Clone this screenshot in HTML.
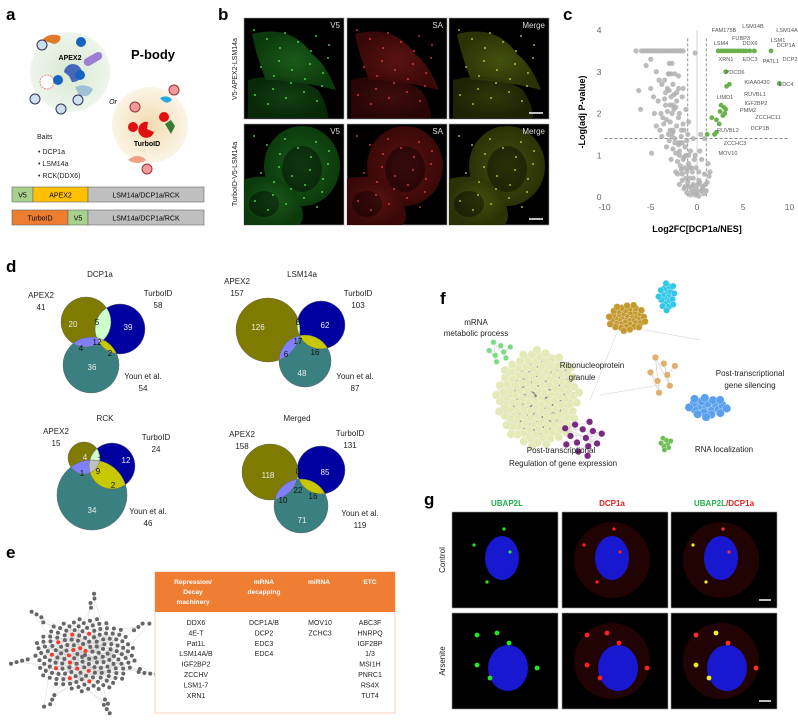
<!DOCTYPE html>
<html><head><meta charset="utf-8">
<style>
html,body{margin:0;padding:0;background:#fff;}
svg{display:block;font-family:"Liberation Sans",Arial,sans-serif;}
</style></head>
<body>
<svg id="fig" width="798" height="721" viewBox="0 0 798 721" xmlns="http://www.w3.org/2000/svg">
<defs>
<radialGradient id="gA" cx="50%" cy="50%" r="50%"><stop offset="0" stop-color="#d6e8d0"/><stop offset="1" stop-color="#eef5ec"/></radialGradient>
<radialGradient id="gT" cx="50%" cy="50%" r="50%"><stop offset="0" stop-color="#f1dcb0"/><stop offset="1" stop-color="#fbf4e6"/></radialGradient>
<radialGradient id="cellG" cx="50%" cy="50%" r="50%"><stop offset="0" stop-color="#1a5a1a"/><stop offset="1" stop-color="#0c3a0c"/></radialGradient>
<radialGradient id="cellR" cx="50%" cy="50%" r="50%"><stop offset="0" stop-color="#5a1212"/><stop offset="1" stop-color="#3a0808"/></radialGradient>
<radialGradient id="cellM" cx="50%" cy="50%" r="50%"><stop offset="0" stop-color="#44500e"/><stop offset="1" stop-color="#2a3206"/></radialGradient>
</defs>

<g font-weight="bold" font-size="17" fill="#000">
<text x="6" y="20">a</text><text x="218" y="20">b</text><text x="563" y="20">c</text>
<text x="6" y="272">d</text><text x="6" y="558">e</text><text x="440" y="304">f</text><text x="424" y="505">g</text>
</g>

<g>
<circle cx="70" cy="72" r="40" fill="url(#gA)"/>
<circle cx="150" cy="125" r="38" fill="url(#gT)"/>
<path d="M42 40 q8 -8 18 -4 q2 6 -6 8 z" fill="#e07a28"/>
<rect x="83" y="55" width="20" height="8" rx="4" transform="rotate(-30 93 59)" fill="#9b7fd4"/>
<path d="M64 72 a9 9 0 1 1 8 10 l-3 -6 z" fill="#4466bb"/>
<path d="M75 87 q10 -4 18 2 q-4 10 -14 6 z" fill="#9fc0d4"/>
<circle cx="47" cy="82" r="7" fill="#fff" stroke="#f08080" stroke-dasharray="2 1"/>
<g font-size="6" text-anchor="middle" fill="#fff">
<circle cx="42" cy="45" r="5" fill="#cde0f0" stroke="#335"/><circle cx="81" cy="42" r="5" fill="#1565c0"/>
<circle cx="58" cy="80" r="5" fill="#1565c0"/><circle cx="80" cy="75" r="5" fill="#1565c0"/>
<circle cx="35" cy="99" r="5" fill="#cde0f0" stroke="#335"/><circle cx="61" cy="109" r="5" fill="#cde0f0" stroke="#335"/>
<circle cx="78" cy="100" r="5" fill="#cde0f0" stroke="#335"/>
<circle cx="135" cy="107" r="5" fill="#f59a9a" stroke="#933"/><circle cx="174" cy="90" r="5" fill="#f59a9a" stroke="#933"/>
<circle cx="133" cy="127" r="5" fill="#e01010"/><circle cx="164" cy="117" r="5" fill="#e01010"/>
<circle cx="147" cy="169" r="5" fill="#f59a9a" stroke="#933"/>
</g>
<path d="M148 122 a8 8 0 1 0 6 10 l-7 -3 z" fill="#e01010"/>
<path d="M160 98 q8 -4 12 2 q-6 6 -12 -2 z" fill="#29a8e0"/>
<path d="M165 124 l6 -4 l4 6 l-4 8 z" fill="#3b7a32"/>
<path d="M128 160 q10 -8 18 0 q-8 6 -18 0 z" fill="#f0a080"/>
<text x="70" y="60" font-size="7" font-weight="bold" text-anchor="middle">APEX2</text>
<text x="153" y="59" font-size="13" font-weight="bold" text-anchor="middle">P-body</text>
<text x="113" y="104" font-size="7" font-style="italic" text-anchor="middle">Or</text>
<text x="147" y="146" font-size="7" font-weight="bold" text-anchor="middle">TurboID</text>
<g font-size="7" fill="#222">
<text x="37" y="139">Baits</text>
<text x="38" y="154">•  DCP1a</text><text x="38" y="166">•  LSM14a</text><text x="38" y="178">•  RCK(DDX6)</text>
</g>
<g font-size="7" text-anchor="middle" stroke-width="0.6">
<rect x="12" y="187" width="21" height="15" fill="#a9d18e" stroke="#666"/><text x="22.5" y="197.5">V5</text>
<rect x="33" y="187" width="55" height="15" fill="#ffc000" stroke="#666"/><text x="60.5" y="197.5">APEX2</text>
<rect x="88" y="187" width="116" height="15" fill="#bfbfbf" stroke="#666"/><text x="146" y="197.5">LSM14a/DCP1a/RCK</text>
<rect x="12" y="210" width="56" height="15" fill="#ed7d31" stroke="#666"/><text x="40" y="220.5">TurboID</text>
<rect x="68" y="210" width="20" height="15" fill="#a9d18e" stroke="#666"/><text x="78" y="220.5">V5</text>
<rect x="88" y="210" width="116" height="15" fill="#bfbfbf" stroke="#666"/><text x="146" y="220.5">LSM14a/DCP1a/RCK</text>
</g>
</g>

<g id="panelB"></g>
<g font-size="7" fill="#222">
<text transform="translate(237,69) rotate(-90)" text-anchor="middle">V5-APEX2-LSM14a</text>
<text transform="translate(237,174) rotate(-90)" text-anchor="middle">TurboID-V5-LSM14a</text>
</g>

<g id="panelC"></g>
<g id="panelD"></g>
<g id="panelE"></g>
<g>
<rect x="155" y="572" width="240" height="141" fill="#fff" stroke="#f6d2bc" stroke-width="1"/>
<rect x="155" y="572" width="240" height="40" fill="#ef7d32"/>
<g font-size="6.6" font-weight="bold" fill="#fff" text-anchor="middle">
<text x="193" y="584">Repression/</text><text x="193" y="594">Decay</text><text x="193" y="604">machinery</text>
<text x="264" y="584">mRNA</text><text x="264" y="594">decapping</text>
<text x="319" y="584">miRNA</text><text x="370" y="584">ETC</text>
</g>
<g font-size="7" fill="#222" text-anchor="middle" id="tbody"></g>
</g>

<g id="panelF"></g>
<g font-size="8" fill="#222" text-anchor="middle">
<text x="476" y="325">mRNA</text><text x="476" y="336">metabolic process</text>
<text x="592" y="368">Ribonucleoprotein</text><text x="582" y="380">granule</text>
<text x="750" y="376">Post-transcriptional</text><text x="750" y="388">gene silencing</text>
<text x="724" y="452">RNA localization</text>
<text x="561" y="453">Post-transcriptional</text><text x="563" y="466">Regulation of gene expression</text>
</g>

<g id="panelG"></g>
<g font-size="8" font-weight="bold" text-anchor="middle">
<text x="507" y="506" fill="#22b14c">UBAP2L</text>
<text x="612" y="506" fill="#e02020">DCP1a</text>
<text x="724" y="506"><tspan fill="#22b14c">UBAP2L</tspan><tspan fill="#e02020">/DCP1a</tspan></text>
</g>
<g font-size="8" fill="#222" text-anchor="middle">
<text transform="translate(445,560) rotate(-90)">Control</text>
<text transform="translate(445,661) rotate(-90)">Arsenite</text>
</g>
</svg>

<script>
const NS='http://www.w3.org/2000/svg';
function mk(tag,attrs,parent){const e=document.createElementNS(NS,tag);for(const k in attrs)e.setAttribute(k,attrs[k]);parent.appendChild(e);return e;}

/* ---------- Panel c: volcano data ---------- */
const grayFC=[-6.6,-6.0,-5.7,-5.4,-5.1,-4.8,-4.5,-4.2,-3.9,-3.6,-3.3,-3.0,-2.7,-2.4,-2.1,-1.8,-1.5,-0.2,
-5,-5.5,-3,-2.7,-4.4,-3,-2.4,-6.3,-5,-3.8,-3.2,-2.6,-2,-4.2,-3.5,-2.8,-2.2,-1.6,-6.1,-4.6,-3.9,-3.2,-2.5,-1.9,-1.2,
-4.4,-3.6,-2.9,-2.2,-1.5,-0.9,-3.8,-3.1,-2.4,-1.7,-1.0,-0.4,0.4,0.8,-4.9,-3.3,-2.6,-1.9,-1.3,-0.7,-2.8,-2.1,-1.5,-0.9,-0.3,0.5,1.2,
-2.3,-1.7,-1.1,-0.5,0.2,0.8,1.3,-1.6,-1,-0.4,0.3,0.9,-0.6,0,0.4,-0.2,0.2,-1.4,1.0,-2.0,-1.2,-0.8,-2.6,-1.8,-3.4,0.6,
-3.1,-2.8,-2.5,-2.2,-2.9,-2.6,-2.3,-3.4,-3.0,-2.7,-2.0,-1.7,-3.7,-3.3,-2.9,-2.6,-1.4,-1.1,-2.4,-2.0,-1.6,-3.0,-2.7,-2.3,
-1.9,-1.4,-1.8,-1.3,-0.6,-2.1,-1.6,-1.2,-0.8,-0.4,-1.9,-1.3,-0.9,-0.5,-0.1,0.6,0.2,-0.7,-1.1,0.1,-0.3,0.7,1.1,1.4,-0.9,-0.1,
-4.1,-4.7,-3.5,-4.0,-1.5,-2.0,-0.2,0.3];
const grayP=[3.5,3.5,3.5,3.5,3.5,3.5,3.5,3.5,3.5,3.5,3.5,3.5,3.5,3.5,3.5,3.5,3.5,3.45,
3.3,3.15,3.2,3.2,3.0,2.95,2.95,2.55,2.6,2.7,2.6,2.7,2.6,2.3,2.35,2.4,2.3,2.4,2.1,2.0,2.0,2.05,2.1,2.0,2.1,
1.7,1.75,1.8,1.7,1.75,1.8,1.45,1.5,1.4,1.45,1.5,1.4,1.5,1.4,1.05,1.2,1.15,1.1,1.2,1.1,0.9,0.85,0.9,0.8,0.9,0.9,0.8,
0.6,0.65,0.6,0.6,0.6,0.55,0.5,0.4,0.35,0.3,0.35,0.3,0.15,0.1,0.15,0.05,0.02,0.2,0.15,1.3,1.0,0.7,1.6,1.3,2.2,0.25,
2.95,2.95,2.45,2.5,2.2,2.2,2.15,2.5,2.55,2.0,1.9,1.6,1.9,1.85,1.6,1.55,1.6,1.35,1.3,1.25,1.3,1.35,1.45,1.05,
1.0,0.95,0.75,0.7,0.7,0.55,0.55,0.45,0.45,0.45,0.3,0.25,0.25,0.25,0.2,0.2,0.4,0.05,0.1,0.3,0.12,0.08,0.35,0.6,1.0,0.7,
2.8,2.4,2.8,1.6,2.6,2.9,1.0,1.1];
const greenFC=[2.3,2.6,2.9,3.2,3.5,3.8,4.1,4.4,4.7,5.0,5.3,5.7,6.2,8.0,3.1,3.2,3.5,8.9,2.6,2.9,3.1,2.5,2.8,3.0,1.6,2.1,2.4,1.9,2.1,1.1];
const greenP=[3.5,3.5,3.5,3.5,3.5,3.5,3.5,3.5,3.5,3.5,3.5,3.5,3.5,3.5,3.0,2.65,2.7,2.72,2.2,2.15,2.1,2.05,1.95,2.0,1.9,1.85,1.75,1.5,1.55,1.5];
const xTicks=[-10,-5,0,5,10];
const yTicks=[0,1,2,3,4];
const geneLabels=[["FAM175B",724,32],["LSM14B",753,28],["LSM14A",787,32],["FUBP3",741,40],["LSM1",778,42],["LSM4",721,45],["DDX6",750,45],["DCP1A",786,47],["XRN1",726,61],["EDC3",750,61],["PATL1",771,63],["DCP2",790,61],["PDCD6",735,74],["KIAA0430",757,84],["EDC4",786,86],["RUVBL1",755,96],["LIMD1",725,99],["IGF2BP2",756,105],["PMM2",748,112],["ZCCHC11",768,119],["DCP1B",760,130],["RUVBL2",728,132],["ZCCHC3",735,145],["MOV10",728,155]];
(function(){
 const g=document.getElementById('panelC');
 const sx=v=>697+v*9.25, sy=v=>197-v*41.75;
 xTicks.forEach(t=>{const e=mk('text',{x:sx(t),y:210,'font-size':8.5,'text-anchor':'middle',fill:'#666'},g);e.textContent=t;
   });
 yTicks.forEach(t=>{const e=mk('text',{x:sx(-10)-3,y:sy(t)+3,'font-size':8.5,'text-anchor':'end',fill:'#666'},g);e.textContent=t;
   });
 mk('line',{x1:sx(0),y1:sy(4),x2:sx(0),y2:sy(0),stroke:'#ccc','stroke-width':0.8},g);
 const d1=mk('line',{x1:sx(-1),y1:sy(3.8),x2:sx(-1),y2:sy(0),stroke:'#777','stroke-width':0.8,'stroke-dasharray':'3 2'},g);
 
 const d2=mk('line',{x1:sx(1),y1:sy(3.8),x2:sx(1),y2:sy(0),stroke:'#777','stroke-width':0.8,'stroke-dasharray':'3 2'},g);
 
 const d3=mk('line',{x1:sx(-10),y1:sy(1.4),x2:sx(10),y2:sy(1.4),stroke:'#777','stroke-width':0.8,'stroke-dasharray':'3 2'},g);
 
 grayFC.forEach((v,i)=>{const c=mk('circle',{cx:sx(v),cy:sy(grayP[i]),r:2.6,fill:'#b0b0b0','fill-opacity':0.85},g);
   });
 greenFC.forEach((v,i)=>{const c=mk('circle',{cx:sx(v),cy:sy(greenP[i]),r:2.4,fill:'#6ab04c'},g);
   });
 geneLabels.forEach(l=>{const e=mk('text',{x:l[1],y:l[2],'font-size':5.6,'text-anchor':'middle',fill:'#555'},g);e.textContent=l[0];
   });
 const xl=mk('text',{x:697,y:232,'font-size':9,'font-weight':'bold','text-anchor':'middle'},g);xl.textContent='Log2FC[DCP1a/NES]';
 
 const yl=mk('text',{transform:'translate(585,112) rotate(-90)','font-size':9,'font-weight':'bold','text-anchor':'middle'},g);yl.textContent='-Log(adj P-value)';
 
})();

/* ---------- Panel d: venns ---------- */
const vennTitles=["DCP1a","LSM14a","RCK","Merged"];
const vennCounts=[[20,5,39,4,12,2,36],[126,8,62,17,6,16,48],[4,1,12,1,9,2,34],[118,8,85,22,10,16,71]];
const vennTotals=[[41,58,54],[157,103,87],[15,24,46],[158,131,119]];
(function(){
 const g=document.getElementById('panelD');
 const layouts=[
  {t:[100,277],c:[[86,322,25],[120,329,25],[91,365,28]],n:[[73,324],[97,322],[128,327],[81,348],[97,342],[110,353],[92,367]],L:[[41,298],[158,296],[143,379]]},
  {t:[302,277],c:[[268,330,32],[321,325,24],[305,361,26]],n:[[258,327],[298,322],[325,325],[298,341],[286,354],[315,352],[302,373]],L:[[237,284],[358,296],[355,379]]},
  {t:[105,421],c:[[84,458,16],[112,466,23],[92,495,35]],n:[[85,457],[100,455],[126,460],[82,473],[98,471],[113,485],[92,510]],L:[[56,434],[156,440],[148,514]]},
  {t:[297,421],c:[[270,472,28],[321,470,24],[301,506,27]],n:[[268,475],[298,471],[325,472],[298,490],[283,500],[313,496],[302,520]],L:[[242,437],[350,436],[360,516]]}];
 const col=['#7f7a00','#0000a0','#3a8080'];
 layouts.forEach((Lo,k)=>{
  const vg=mk('g',{},g);
  const ids=Lo.c.map((c,i)=>{const id='vc'+k+'_'+i;const cp=mk('clipPath',{id:id},vg);mk('circle',{cx:c[0],cy:c[1],r:c[2]},cp);return id;});
  Lo.c.forEach((c,i)=>mk('circle',{cx:c[0],cy:c[1],r:c[2],fill:col[i]},vg));
  const C=Lo.c;
  const g01=mk('g',{'clip-path':'url(#'+ids[0]+')'},vg);mk('circle',{cx:C[1][0],cy:C[1][1],r:C[1][2],fill:'#ccffcc'},g01);
  const g02=mk('g',{'clip-path':'url(#'+ids[0]+')'},vg);mk('circle',{cx:C[2][0],cy:C[2][1],r:C[2][2],fill:'#8080ff'},g02);
  const g12=mk('g',{'clip-path':'url(#'+ids[1]+')'},vg);mk('circle',{cx:C[2][0],cy:C[2][1],r:C[2][2],fill:'#c8c800'},g12);
  const g012a=mk('g',{'clip-path':'url(#'+ids[0]+')'},vg);const g012=mk('g',{'clip-path':'url(#'+ids[1]+')'},g012a);mk('circle',{cx:C[2][0],cy:C[2][1],r:C[2][2],fill:'#c0c0c0'},g012);
  Lo.c.forEach(c=>mk('circle',{cx:c[0],cy:c[1],r:c[2],fill:'none',stroke:'#666','stroke-width':0.5},vg));
  const tt=mk('text',{x:Lo.t[0],y:Lo.t[1],'font-size':8,'text-anchor':'middle',fill:'#222'},vg);tt.textContent=vennTitles[k];
  
  const dark=[true,false,true,false,false,false,true];
  vennCounts[k].forEach((v,i)=>{const e=mk('text',{x:Lo.n[i][0],y:Lo.n[i][1]+3,'font-size':8,'text-anchor':'middle',fill:dark[i]?'#eee':'#111'},vg);e.textContent=v;
   });
  const names=['APEX2','TurboID','Youn et al.'];
  names.forEach((n,i)=>{const a=mk('text',{x:Lo.L[i][0],y:Lo.L[i][1],'font-size':8,'text-anchor':'middle',fill:'#222'},vg);a.textContent=n;
   
   const b=mk('text',{x:Lo.L[i][0],y:Lo.L[i][1]+12,'font-size':8,'text-anchor':'middle',fill:'#222'},vg);b.textContent=vennTotals[k][i];
   });
 });
})();

/* ---------- Panel e ---------- */
const colRepression=["DDX6","4E-T","Pat1L","LSM14A/B","IGF2BP2","ZCCHV","LSM1-7","XRN1"];
const colDecapping=["DCP1A/B","DCP2","EDC3","EDC4"];
const colMiRNA=["MOV10","ZCHC3"];
const colETC=["ABC3F","HNRPQ","IGF2BP","1/3","MSI1H","PNRC1","RS4X","TUT4"];
(function(){
 const tb=document.getElementById('tbody');
 [[colRepression,196],[colDecapping,264],[colMiRNA,320],[colETC,370]].forEach(([arr,x])=>arr.forEach((s,i)=>{
  const e=mk('text',{x:x,y:625+i*10.4},tb);e.textContent=s;}));
 const g=document.getElementById('panelE');
 const cx=85,cy=655,pts=[];
 for(let i=0;i<170;i++){const a=i*2.39996,r=3.0*Math.sqrt(i);pts.push([cx+r*Math.cos(a)*1.3,cy+r*Math.sin(a)*0.95]);}
 for(let i=0;i<30;i++){const a=i*0.9+0.3,r=50+(i%4)*5;pts.push([cx+r*Math.cos(a)*1.15,cy+r*Math.sin(a)*0.95]);}
 pts.forEach((p,i)=>{const j=(i*37+11)%120;mk('line',{x1:p[0],y1:p[1],x2:pts[j][0],y2:pts[j][1],stroke:'#ccc','stroke-width':0.4},g);});
 pts.forEach((p,i)=>{const red=(i%5==2&&i<110&&p[0]<cx+8);const c=mk('circle',{cx:p[0],cy:p[1],r:2,fill:red?'#f03a2a':'#666'},g);
  });
})();

/* ---------- Panel f ---------- */
(function(){
 const g=document.getElementById('panelF');
 function cluster(cx,cy,n,sp,rad,fill,name,ax,ay,ne,ec){
  const sub=mk('g',{},g);
  const p=[];for(let i=0;i<n;i++){const a=i*2.39996,r=sp*Math.sqrt(i+0.5);p.push([cx+r*Math.cos(a)*ax,cy+r*Math.sin(a)*ay]);}
  p.forEach((q,i)=>{for(let k=1;k<=ne;k++){const j=(i*7+k*13)%n;mk('line',{x1:q[0],y1:q[1],x2:p[j][0],y2:p[j][1],stroke:ec,'stroke-width':0.35,'stroke-opacity':0.7},sub);}});
  p.forEach(q=>mk('circle',{cx:q[0],cy:q[1],r:rad,fill:fill,stroke:'#fff','stroke-width':0.3},sub));
 }
 mk('line',{x1:590,y1:400,x2:620,y2:325,stroke:'#ccc','stroke-width':0.5},g);
 mk('line',{x1:600,y1:395,x2:660,y2:385,stroke:'#ccc','stroke-width':0.5},g);
 mk('line',{x1:645,y1:330,x2:700,y2:340,stroke:'#ccc','stroke-width':0.5},g);
 cluster(538,398,130,3.9,4.2,'#e4e9b8','cluster-ribonucleoprotein',0.95,1.1,6,'#777');
 cluster(627,318,45,2.4,3.4,'#c49a30','cluster-brown',1.2,0.85,4,'#999');
 cluster(667,296,20,2.5,3.2,'#30c8e8','cluster-cyan',0.8,1.3,3,'#999');
 cluster(707,407,22,3.3,4.2,'#5aa0ec','cluster-gene-silencing',1.3,0.7,3,'#aaa');
 cluster(666,444,8,2.4,2.6,'#6abf50','cluster-rna-localization',1,1,1,'#aaa');
 cluster(500,352,8,4,2.8,'#7adc80','cluster-mrna-metabolic',1.3,1,2,'#aaa');
 cluster(582,438,14,5.5,3.3,'#7a2a80','cluster-ptgr',1.0,1.0,2,'#aaa');
 cluster(663,375,8,6,3.3,'#e0b070','cluster-orange',1.0,1.2,2,'#aaa');
})();

function panelImg(g,x,y,w,h,name){const r=mk('rect',{x:x,y:y,width:w,height:h,fill:'#000',stroke:'#999','stroke-width':0.6},g);
 }
(function(){
 const g=document.getElementById('panelB');
 const cols=[[244,'url(#cellG)','#5f5','V5'],[347,'url(#cellR)','#f44','SA'],[449,'url(#cellM)','#dd4','Merge']];
 const rows=[18,124];
 rows.forEach((y,ri)=>cols.forEach((c,ci)=>{
  panelImg(g,c[0],y,100,101,'micrograph');
  const cg=mk('g',{},g);
  if(ri==0){mk('path',{d:`M${c[0]+8} ${y+16} q40 -10 60 20 q14 10 24 36 q-40 -10 -70 -10 q-10 -25 -14 -46z`,fill:c[1]},cg);
            mk('path',{d:`M${c[0]+4} ${y+62} q40 -10 70 10 q10 15 10 28 l-80 0z`,fill:c[1],opacity:0.7},cg);}
  else{mk('ellipse',{cx:c[0]+58,cy:y+42,rx:38,ry:40,fill:c[1]},cg);
       mk('path',{d:`M${c[0]} ${y+55} q40 -10 55 20 q8 20 0 26 l-55 0z`,fill:c[1]},cg);
       mk('ellipse',{cx:c[0]+20,cy:y+80,rx:15,ry:13,fill:'#000',opacity:0.4},cg);
       mk('ellipse',{cx:c[0]+58,cy:y+45,rx:20,ry:23,fill:'#000',opacity:0.4},cg);}
  for(let k=0;k<24;k++){const px=c[0]+10+((k*37)%80),py=y+12+((k*53)%78);mk('circle',{cx:px,cy:py,r:0.9,fill:c[2]},cg);}
  const t=mk('text',{x:c[0]+96,y:y+10,'font-size':8,'text-anchor':'end',fill:'#ddd'},g);t.textContent=c[3];
  
  if(ci==2)mk('line',{x1:c[0]+80,y1:y+95,x2:c[0]+94,y2:y+95,stroke:'#fff','stroke-width':1.5},g);
 }));
})();
(function(){
 const g=document.getElementById('panelG');
 const cols=[452,562,671],rows=[512,613];
 rows.forEach((y,ri)=>cols.forEach((x,ci)=>{
  panelImg(g,x,y,106,96,'micrograph');
  if(ci>0)mk('ellipse',{cx:x+50,cy:y+48,rx:38,ry:38,fill:'#2a0404',opacity:0.8},g);
  mk('ellipse',{cx:x+(ri?56:50),cy:y+(ri?55:46),rx:ri?20:17,ry:ri?23:22,fill:'#1818d0'},g);
  const sp=ri==0?[[x+35,y+70],[x+58,y+40],[x+22,y+33],[x+52,y+17]]:[[x+25,y+52],[x+57,y+30],[x+38,y+65],[x+25,y+22],[x+45,y+20],[x+85,y+55]];
  sp.forEach((p,k)=>mk('circle',{cx:p[0],cy:p[1],r:ri?2.4:1.6,fill:ci==0?'#22e822':ci==1?'#ff2020':(k%2?'#ff3030':'#f0f020')},g));
  if(ci==2)mk('line',{x1:x+88,y1:y+88,x2:x+100,y2:y+88,stroke:'#fff','stroke-width':1.5},g);
 }));
})();
</script>
</body></html>
